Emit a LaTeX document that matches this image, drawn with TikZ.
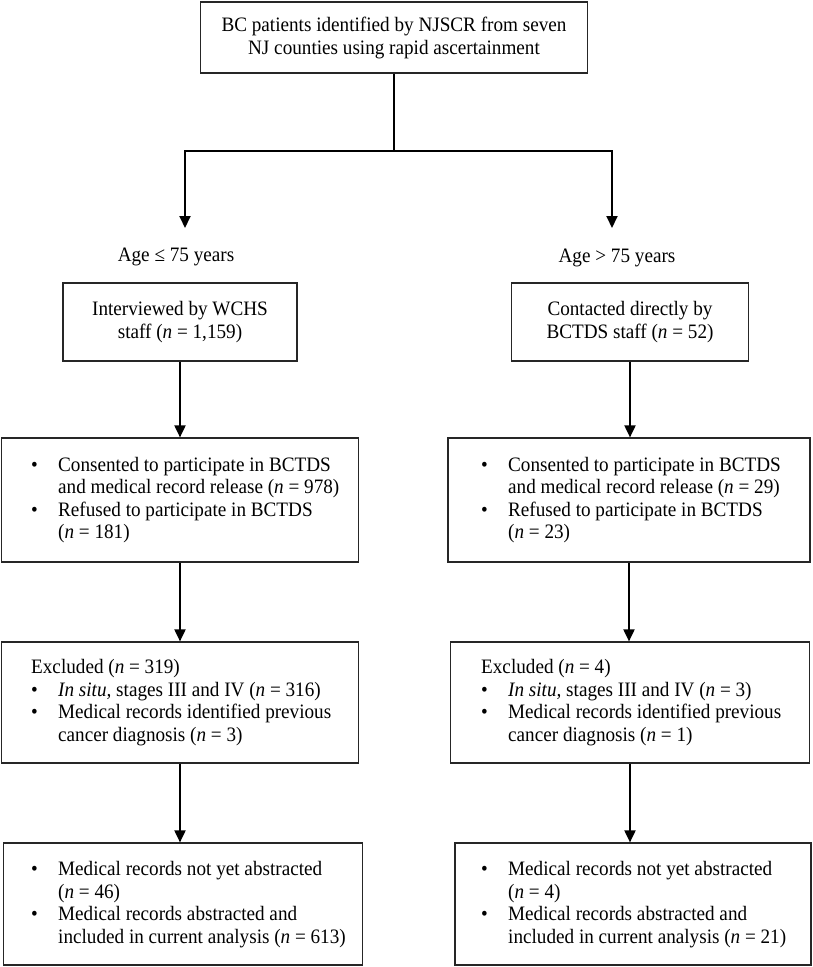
\documentclass[tikz,border=0pt]{standalone}
\usepackage{fontspec}
\setmainfont[FakeStretch=0.935]{Liberation Serif}
\usetikzlibrary{arrows.meta}
\newcommand{\bitem}{\makebox[27pt][l]{\textbullet}}
\newcommand{\bind}{\hspace*{27pt}}
\begin{document}
\begin{tikzpicture}[x=1pt,y=-1pt,
  box/.style={draw=black!85, line width=1.2pt, rectangle, inner sep=0pt},
  txt/.style={font=\fontsize{20.5}{22.6}\selectfont, inner sep=0pt, align=left, anchor=west},
  ctxt/.style={font=\fontsize{20.5}{23}\selectfont, inner sep=0pt, align=center},
  arr/.style={draw=black, line width=1.9pt, -{Triangle[length=12pt,width=11pt]}},
  lin/.style={draw=black, line width=1.9pt}]
\useasboundingbox (0,0) rectangle (812,967);

% boxes
\node[box, ctxt, minimum width=387pt, minimum height=71pt] (top) at (394,37.5)
  {BC patients identified by NJSCR from seven\\NJ counties using rapid ascertainment};
\node[box, ctxt, minimum width=234pt, minimum height=78pt] (b2L) at (180,322)
  {Interviewed by WCHS\\staff (\textit{n} = 1,159)};
\node[box, ctxt, minimum width=237pt, minimum height=78pt] (b2R) at (630,322)
  {Contacted directly by\\BCTDS staff (\textit{n} = 52)};
\node[box, minimum width=357pt, minimum height=124pt] (b3L) at (180,500) {};
\node[box, minimum width=362pt, minimum height=124pt] (b3R) at (629,500) {};
\node[box, minimum width=357pt, minimum height=121pt] (b4L) at (180,702.5) {};
\node[box, minimum width=359pt, minimum height=121pt] (b4R) at (630,702.5) {};
\node[box, minimum width=359pt, minimum height=122pt] (b5L) at (183,904) {};
\node[box, minimum width=356pt, minimum height=122pt] (b5R) at (633,904) {};

% labels
\node[ctxt] (ageL) at (176,257) {Age ≤ 75 years};
\node[ctxt] (ageR) at (617,258) {Age > 75 years};

% box texts
\node[txt] (t3L) at (31,500) {\bitem Consented to participate in BCTDS\\
  \bind and medical record release (\textit{n} = 978)\\
  \bitem Refused to participate in BCTDS\\
  \bind (\textit{n} = 181)};
\node[txt] (t3R) at (481,500) {\bitem Consented to participate in BCTDS\\
  \bind and medical record release (\textit{n} = 29)\\
  \bitem Refused to participate in BCTDS\\
  \bind (\textit{n} = 23)};
\node[txt] (t4L) at (31,702.5) {Excluded (\textit{n} = 319)\\
  \bitem \textit{In situ,} stages III and IV (\textit{n} = 316)\\
  \bitem Medical records identified previous\\
  \bind cancer diagnosis (\textit{n} = 3)};
\node[txt] (t4R) at (481,702.5) {Excluded (\textit{n} = 4)\\
  \bitem \textit{In situ,} stages III and IV (\textit{n} = 3)\\
  \bitem Medical records identified previous\\
  \bind cancer diagnosis (\textit{n} = 1)};
\node[txt] (t5L) at (31,904.5) {\bitem Medical records not yet abstracted\\
  \bind (\textit{n} = 46)\\
  \bitem Medical records abstracted and\\
  \bind included in current analysis (\textit{n} = 613)};
\node[txt] (t5R) at (481,904.5) {\bitem Medical records not yet abstracted\\
  \bind (\textit{n} = 4)\\
  \bitem Medical records abstracted and\\
  \bind included in current analysis (\textit{n} = 21)};

% connectors
\coordinate (split) at (394,151);
\coordinate (endL) at (185,228);
\coordinate (endR) at (612,228);
\draw[lin] (top.south) -- (split);
\draw[arr] (split) -| (endL);
\draw[arr] (split) -| (endR);

\draw[arr] (b2L.south) -- (b2L.south |- b3L.north);
\draw[arr] (b2R.south) -- (b2R.south |- b3R.north);
\draw[arr] (b3L.south) -- (b3L.south |- b4L.north);
\draw[arr] (b3R.south) -- (b3R.south |- b4R.north);
\draw[arr] (b4L.south) -- (b4L.south |- b5L.north);
\draw[arr] (b4R.south) -- (b4R.south |- b5R.north);
\end{tikzpicture}
\end{document}
